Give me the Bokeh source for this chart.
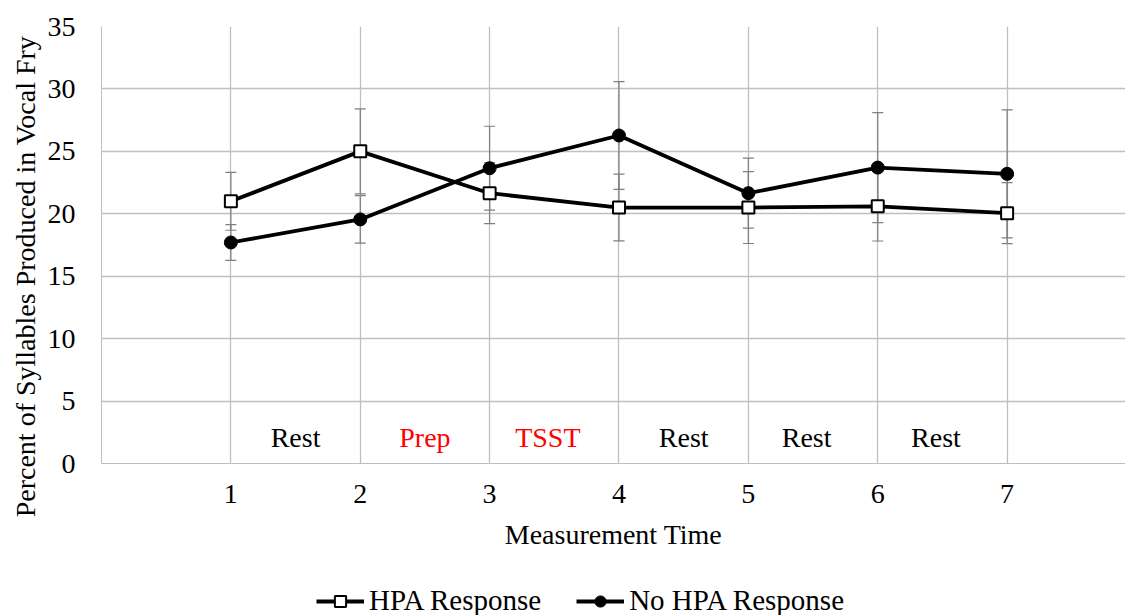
import math
from bokeh.plotting import figure
from bokeh.layouts import column, row
from bokeh.models import (ColumnDataSource, Range1d, FixedTicker, Whisker, TeeHead,
                          Legend, LegendItem)
from bokeh.core.properties import value
from bokeh.embed import file_html
from bokeh.resources import INLINE

# ---- data ----
times = [1, 2, 3, 4, 5, 6, 7]
hpa = [21.0, 25.0, 21.65, 20.5, 20.5, 20.6, 20.05]
hpa_err = [2.32, 3.4, 2.44, 2.67, 2.88, 2.78, 2.44]
no_hpa = [17.7, 19.55, 23.65, 26.27, 21.65, 23.7, 23.2]
no_hpa_err = [1.43, 1.9, 3.36, 4.32, 2.8, 4.4, 5.13]
phase_labels = ["Rest", "Prep", "TSST", "Rest", "Rest", "Rest"]
phase_colors = ["#000000", "#ff0000", "#ff0000", "#000000", "#000000", "#000000"]
y_ticks = [0, 5, 10, 15, 20, 25, 30, 35]
series_names = ["HPA Response", "No HPA Response"]
x_title = "Measurement Time"
y_title = "Percent of Syllables Produced in Vocal Fry"

FONT = "Liberation Serif"
FS = "28px"
GRID = "#bfbfbf"
ERR = "#7f7f7f"
LINE_W = 3.8


def bare(fig):
    fig.axis.visible = False
    fig.grid.visible = False
    fig.outline_line_color = None
    fig.background_fill_color = "white"
    fig.border_fill_color = "white"


def draw_series(fig):
    l1 = fig.line(times, hpa, line_color="black", line_width=LINE_W, line_join="round")
    m1 = fig.scatter(times, hpa, marker="square", size=12, fill_color="white",
                     line_color="black", line_width=2)
    l2 = fig.line(times, no_hpa, line_color="black", line_width=LINE_W, line_join="round")
    m2 = fig.scatter(times, no_hpa, marker="circle", size=13, fill_color="black",
                     line_color="black", line_width=1)
    return l1, m1, l2, m2


# ---------- main chart ----------
p = figure(width=1081, height=585, output_backend="svg", toolbar_location=None,
           x_range=Range1d(0, 7.915), y_range=Range1d(0, 35),
           min_border_left=56, min_border_right=0, min_border_top=26,
           min_border_bottom=122)
p.outline_line_color = None
p.background_fill_color = "white"
p.border_fill_color = "white"

p.xaxis.ticker = FixedTicker(ticks=times)
p.yaxis.ticker = FixedTicker(ticks=y_ticks)
for ax in (p.xaxis[0], p.yaxis[0]):
    ax.axis_line_color = GRID
    ax.axis_line_width = 1
    ax.major_tick_line_color = None
    ax.minor_tick_line_color = None
    ax.major_tick_out = 0
    ax.major_tick_in = 0
    ax.major_label_text_font = FONT
    ax.major_label_text_font_size = FS
    ax.major_label_text_color = "#000000"
p.xaxis.major_label_standoff = 21
p.yaxis.major_label_standoff = 26
p.xaxis.axis_label = x_title
p.xaxis.axis_label_text_font = FONT
p.xaxis.axis_label_text_font_size = FS
p.xaxis.axis_label_text_font_style = "normal"
p.xaxis.axis_label_text_color = "#000000"
p.xaxis.axis_label_standoff = 13

p.xgrid.ticker = FixedTicker(ticks=times)
p.ygrid.ticker = FixedTicker(ticks=y_ticks[1:])
p.xgrid.grid_line_color = GRID
p.ygrid.grid_line_color = GRID
p.xgrid.grid_line_width = 1.3
p.ygrid.grid_line_width = 1.3


def add_err(vals, errs):
    src = ColumnDataSource(dict(x=times,
                                upper=[v + e for v, e in zip(vals, errs)],
                                lower=[v - e for v, e in zip(vals, errs)]))
    w = Whisker(base="x", upper="upper", lower="lower", source=src,
                dimension="height", line_color=ERR, line_width=1.2,
                upper_head=TeeHead(size=11, line_color=ERR, line_width=1.2),
                lower_head=TeeHead(size=11, line_color=ERR, line_width=1.2))
    w.level = "underlay"
    p.add_layout(w)


add_err(hpa, hpa_err)
add_err(no_hpa, no_hpa_err)
draw_series(p)

phase_x = [1.5, 2.5, 3.45, 4.5, 5.45, 6.45]
ptxt = ColumnDataSource(dict(x=phase_x, y=[2.1] * len(phase_x),
                             t=phase_labels, c=phase_colors))
p.text(x="x", y="y", text="t", text_color="c", source=ptxt,
       text_font=value(FONT), text_font_size=FS,
       text_align="center", text_baseline="middle")

# ---------- y-axis title strip (full height) ----------
ylab = figure(width=44, height=615, output_backend="svg", toolbar_location=None,
              x_range=Range1d(0, 44), y_range=Range1d(0, 615),
              min_border=0, min_border_left=0, min_border_right=0,
              min_border_top=0, min_border_bottom=0)
bare(ylab)
ylab.text(x=[25], y=[339], text=[y_title], angle=math.pi / 2,
          text_font=value(FONT), text_font_size=FS, text_color="#000000",
          text_align="center", text_baseline="middle")

# ---------- legend strip ----------
# the series are drawn here too, but the y range keeps them out of view;
# they only supply the legend glyphs
lg = figure(width=1081, height=30, output_backend="svg", toolbar_location=None,
            x_range=Range1d(0, 1081), y_range=Range1d(100, 130),
            min_border=0, min_border_left=0, min_border_right=0,
            min_border_top=0, min_border_bottom=0)
bare(lg)
d1, d1m, d2, d2m = draw_series(lg)
legend = Legend(items=[LegendItem(label=series_names[0], renderers=[d1, d1m]),
                       LegendItem(label=series_names[1], renderers=[d2, d2m])],
                orientation="horizontal", location=(215, -2),
                glyph_width=48, glyph_height=28, label_standoff=5, spacing=35,
                padding=0, margin=0, label_text_font=FONT,
                label_text_font_size="29px", label_text_color="#000000",
                label_text_baseline="middle",
                background_fill_alpha=0, border_line_alpha=0)
lg.add_layout(legend, "center")

layout = row(ylab, column(p, lg, spacing=0), spacing=0)
open("out.html", "w").write(file_html(layout, INLINE))
